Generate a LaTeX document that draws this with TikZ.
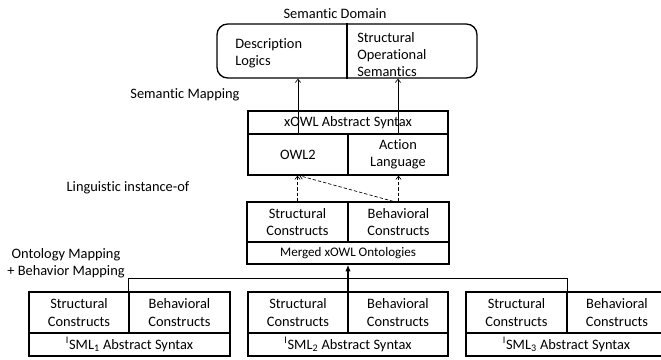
\documentclass[tikz,border=0pt]{standalone}
\usepackage{fontspec}
\setmainfont{Carlito}[Ligatures=NoCommon]
\usetikzlibrary{arrows.meta}

\begin{document}
\begin{tikzpicture}[x=0.75pt, y=-0.75pt,
    font=\fontsize{10.8}{13}\selectfont,
    map/.style={line width=0.5pt, -{Straight Barb[length=2.5pt,width=4pt]}},
    inst/.style={map, dash pattern=on 2.5pt off 1.5pt},
    merge/.style={line width=1pt, -{Latex[length=5pt,width=4pt]}}]

    % style of the boxes
    \tikzstyle{cell}=[draw, line width=1pt, inner sep=0pt, align=center]
    \tikzstyle{half}=[cell, minimum width=75pt, minimum height=30.75pt]
    \tikzstyle{bar}=[cell, minimum width=150pt, minimum height=17.25pt]
    \tikzstyle{txt}=[inner sep=0pt, align=left, anchor=west]

    \useasboundingbox (0,0) rectangle (661,360);

    % semantic domain
    \node (domlabel) at (335,14) {Semantic Domain};
    \node [draw, line width=1pt, rounded corners=8pt,
           minimum width=195pt, minimum height=40.5pt] (dom) at (347,51) {};
    \draw [line width=1pt] (dom.north) -- (dom.south);
    \node [txt] (dl) at (235,53) {Description\\Logics};
    \node [txt] (sos) at (357,54.5) {Structural\\Operational\\Semantics};

    \node (semmap) at (185,95) {Semantic Mapping};

    % xOWL abstract syntax
    \node [bar] (xowl) at (348,122.5) {xOWL Abstract Syntax};
    \node [half] (owl) at (298,154.5) {OWL2};
    \node [half] (act) at (398,154.5) {Action\\Language};

    \draw [map] (owl.north) -- (owl.north |- dom.south);
    \draw [map] (act.north) -- (act.north |- dom.south);

    \node (linst) at (128,188) {Linguistic instance-of};

    % merged ontologies
    \node [half, minimum width=75.75pt, minimum height=30pt] (mstr) at (297.5,222) {Structural\\Constructs};
    \node [half, minimum width=75.75pt, minimum height=30pt] (mbeh) at (398.5,222) {Behavioral\\Constructs};
    \node [bar, minimum width=151.5pt, minimum height=16.5pt,
           font=\fontsize{9.8}{12}\selectfont] (merged) at (348,253) {Merged xOWL Ontologies};

    \draw [inst] (mstr.north) -- (mstr.north |- owl.south);
    \draw [inst] (mbeh.north) -- (mbeh.north |- act.south);
    \draw [inst] ([xshift=-4pt]mbeh.north) -- ([xshift=1pt]owl.south);

    \node [align=center] (ontmap) at (66,263.5) {Ontology Mapping\\+ Behavior Mapping};

    % ISML abstract syntaxes
    \node [half] (s1) at (79,312.5) {Structural\\Constructs};
    \node [half, minimum width=75.75pt] (b1) at (179.5,312.5) {Behavioral\\Constructs};
    \node [bar, minimum width=150.75pt] (a1) at (129.5,344.5) {\textsuperscript{I}SML\textsubscript{1} Abstract Syntax};

    \node [half] (s2) at (298,312.5) {Structural\\Constructs};
    \node [half] (b2) at (398,312.5) {Behavioral\\Constructs};
    \node [bar] (a2) at (348,344.5) {\textsuperscript{I}SML\textsubscript{2} Abstract Syntax};

    \node [half, minimum width=75.75pt] (s3) at (516.5,312.5) {Structural\\Constructs};
    \node [half] (b3) at (617,312.5) {Behavioral\\Constructs};
    \node [bar, minimum width=150.75pt] (a3) at (566.5,344.5) {\textsuperscript{I}SML\textsubscript{3} Abstract Syntax};

    \draw [line width=1pt] (b1.north west) -- ++(0,-13) -| (s3.north east);
    \draw [merge] (a2.north) -- (merged.south);

\end{tikzpicture}
\end{document}
